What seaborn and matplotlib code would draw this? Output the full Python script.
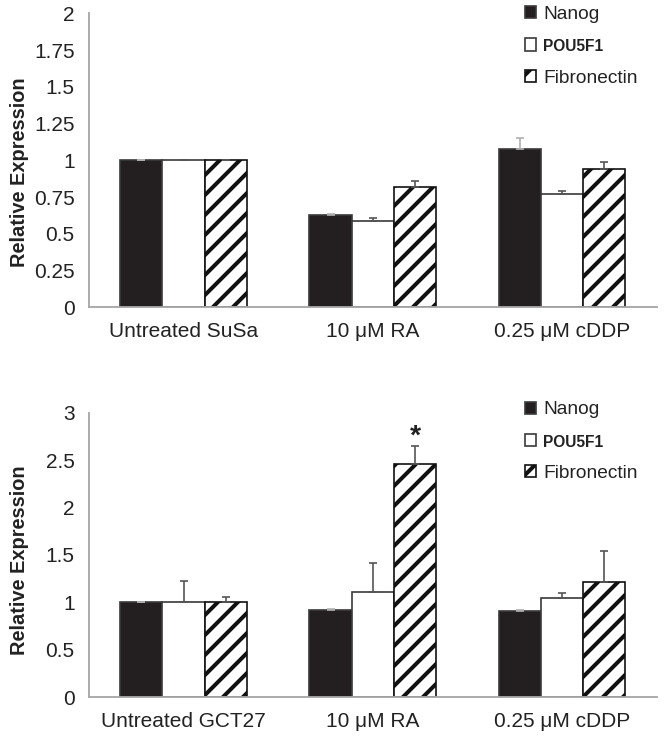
import pandas as pd
import seaborn as sns
import matplotlib.pyplot as plt

genes = ['Nanog', 'POU5F1', 'Fibronectin']
cats_top = ['Untreated SuSa', '10 μM RA', '0.25 μM cDDP']
cats_bot = ['Untreated GCT27', '10 μM RA', '0.25 μM cDDP']

# values per gene, in order of categories
top_vals = {'Nanog': [1.0, 0.63, 1.08], 'POU5F1': [1.0, 0.59, 0.77], 'Fibronectin': [1.0, 0.82, 0.94]}
top_err = {'Nanog': [0.0, 0.003, 0.07], 'POU5F1': [0.0, 0.015, 0.02], 'Fibronectin': [0.0, 0.04, 0.05]}
bot_vals = {'Nanog': [1.0, 0.92, 0.91], 'POU5F1': [1.0, 1.11, 1.05], 'Fibronectin': [1.0, 2.46, 1.21]}
bot_err = {'Nanog': [0.005, 0.005, 0.005], 'POU5F1': [0.23, 0.31, 0.05], 'Fibronectin': [0.06, 0.19, 0.33]}

top_ticks = [0, 0.25, 0.5, 0.75, 1, 1.25, 1.5, 1.75, 2]
top_ticklabels = ['0', '0.25', '0.5', '0.75', '1', '1.25', '1.5', '1.75', '2']
bot_ticks = [0, 0.5, 1, 1.5, 2, 2.5, 3]
bot_ticklabels = ['0', '0.5', '1', '1.5', '2', '2.5', '3']

sns.set_style('white')
plt.rcParams['font.family'] = ['Liberation Sans', 'DejaVu Sans']
plt.rcParams['hatch.linewidth'] = 2.4

fig = plt.figure(figsize=(664 / 120, 742 / 120), dpi=120)
ax1 = fig.add_axes([0.134, 0.586, 0.855, 0.396])
ax2 = fig.add_axes([0.134, 0.0606, 0.855, 0.383])

spine_col = '#a6a6a6'


def panel(ax, cats, vals, errs, ticks, ticklabels, ymax, leg_anchor, ylab_y):
    df = pd.DataFrame([(c, g, vals[g][i]) for g in genes for i, c in enumerate(cats)],
                      columns=['cat', 'gene', 'val'])
    sns.barplot(data=df, x='cat', y='val', hue='gene', order=cats, hue_order=genes,
                errorbar=None, width=0.67, gap=0, legend=False, ax=ax)
    bars = list(ax.containers)
    styles = [dict(fc='#231f20', ec='#3a3a3a', hatch=None),
              dict(fc='white', ec='#3a3a3a', hatch=None),
              dict(fc='white', ec='#111111', hatch='//')]
    for cont, st, g in zip(bars, styles, genes):
        for i, p in enumerate(cont.patches):
            p.set_facecolor(st['fc'])
            p.set_edgecolor(st['ec'])
            p.set_linewidth(1.0)
            if st['hatch']:
                p.set_hatch(st['hatch'])
            x = p.get_x() + p.get_width() / 2
            ecol = '#b0b0b0' if g == 'Nanog' else '#555555'
            ax.errorbar(x, p.get_height(), yerr=[[0], [errs[g][i]]], fmt='none',
                        ecolor=ecol, elinewidth=1.0, capsize=2.5, capthick=1.0)
    ax.set_ylim(0, ymax)
    ax.set_xlim(-0.5, 2.5)
    ax.set_yticks(ticks)
    ax.set_yticklabels(ticklabels)
    ax.set_xticks([-0.5, 0.5, 1.5, 2.5])
    ax.set_xticklabels([])
    ax.set_xticks([0, 1, 2], minor=True)
    ax.set_xticklabels(cats, minor=True)
    ax.tick_params(axis='x', which='minor', length=0, pad=9, labelsize=12.5, labelcolor='#222222')
    ax.tick_params(axis='x', which='major', length=4, color=spine_col, width=1.1, direction='out')
    ax.tick_params(axis='y', length=3.6, color=spine_col, width=1.1, direction='out', pad=5,
                   labelsize=12.5, labelcolor='#222222')
    for s in ['top', 'right']:
        ax.spines[s].set_visible(False)
    for s in ['left', 'bottom']:
        ax.spines[s].set_color(spine_col)
        ax.spines[s].set_linewidth(1.1)
    ax.set_xlabel('')
    ax.set_ylabel('Relative Expression', fontsize=12, fontweight='bold', color='#222222')
    ax.yaxis.set_label_coords(-0.105, ylab_y)
    handles = [c.patches[0] for c in bars]
    leg = ax.legend(handles, genes, loc='upper left', bbox_to_anchor=leg_anchor, frameon=False,
                    fontsize=11.5, labelspacing=0.8, handlelength=0.6, handleheight=0.6,
                    handletextpad=0.35, borderaxespad=0, borderpad=0)
    for t in leg.get_texts():
        t.set_color('#222222')
    leg.get_texts()[1].set_fontweight('bold')
    leg.get_texts()[1].set_fontsize(9.3)
    return bars


panel(ax1, cats_top, top_vals, top_err, top_ticks, top_ticklabels, 2, (0.768, 1.025), 0.46)
bars2 = panel(ax2, cats_bot, bot_vals, bot_err, bot_ticks, bot_ticklabels, 3, (0.768, 1.04), 0.48)

# significance mark over RA Fibronectin
p = bars2[2].patches[1]
ax2.text(p.get_x() + p.get_width() / 2, bot_vals['Fibronectin'][1] + bot_err['Fibronectin'][1] + 0.1,
         '*', ha='center', va='center', fontsize=17, fontweight='bold', color='#222222')

fig.savefig('out.png', dpi=120)
